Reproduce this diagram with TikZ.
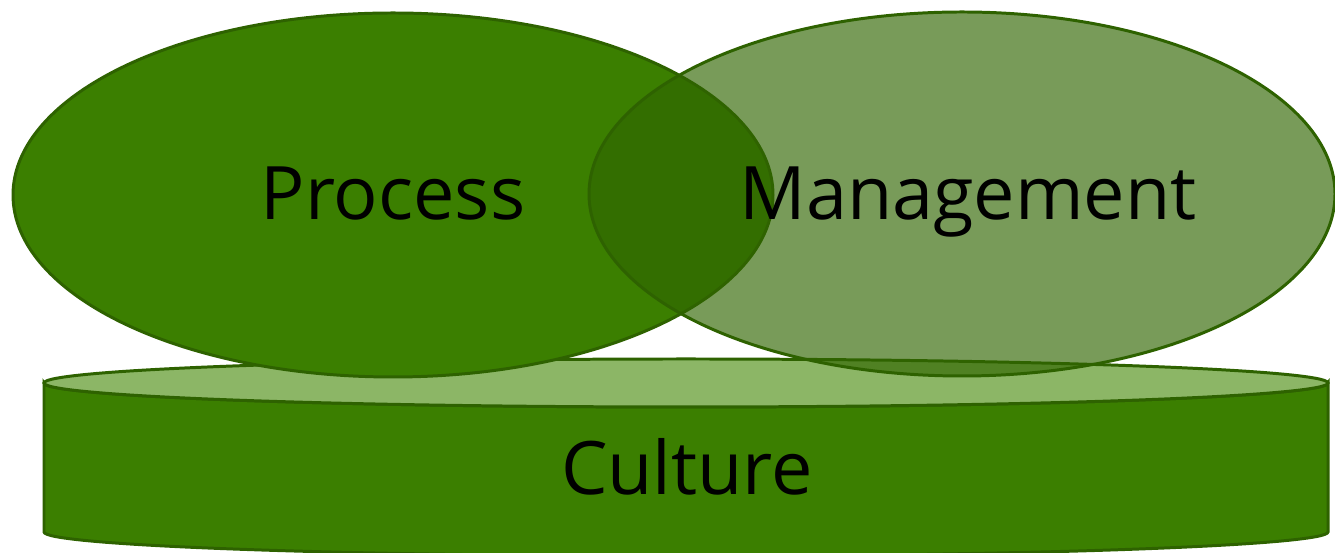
\documentclass[tikz,border=0pt]{standalone}
\usepackage{fontspec}
\setmainfont{Open Sans}
\usepackage{xcolor}
\usepackage{tikz}
\usetikzlibrary{positioning}

\definecolor{leafgreen}{RGB}{59,127,0}
\definecolor{edgegreen}{RGB}{46,98,0}
\definecolor{topgreen}{RGB}{140,182,102}
\definecolor{mossgreen}{RGB}{48,101,0}

\begin{document}
\begin{tikzpicture}[x=0.02cm, y=0.02cm,
    font=\fontsize{42}{50}\selectfont,
    rim/.style={draw=edgegreen, line width=1.7pt},
    label/.style={anchor=base, text=black, inner sep=0pt}]
  \clip (0,0) rectangle (1335,553);

  % Culture disc
  \draw[rim, fill=leafgreen] (44,170) -- (44,21)
    arc[start angle=180, end angle=360, x radius=642, y radius=24]
    -- (1328,170)
    arc[start angle=0, end angle=-180, x radius=642, y radius=24] -- cycle;
  \draw[rim, fill=topgreen] (686,170) ellipse [x radius=642, y radius=24];
  \node[label] (cult) at (687,58) {Culture};

  % Process
  \draw[rim, fill=leafgreen] (393,358) ellipse [x radius=380, y radius=182];
  \node[label] (proc) at (393,333) {Process};

  % Management (see-through)
  \draw[rim, fill=mossgreen, fill opacity=0.65] (962,359) ellipse [x radius=373, y radius=182];
  \node[label] (mgmt) at (968,333) {Management};
\end{tikzpicture}
\end{document}
